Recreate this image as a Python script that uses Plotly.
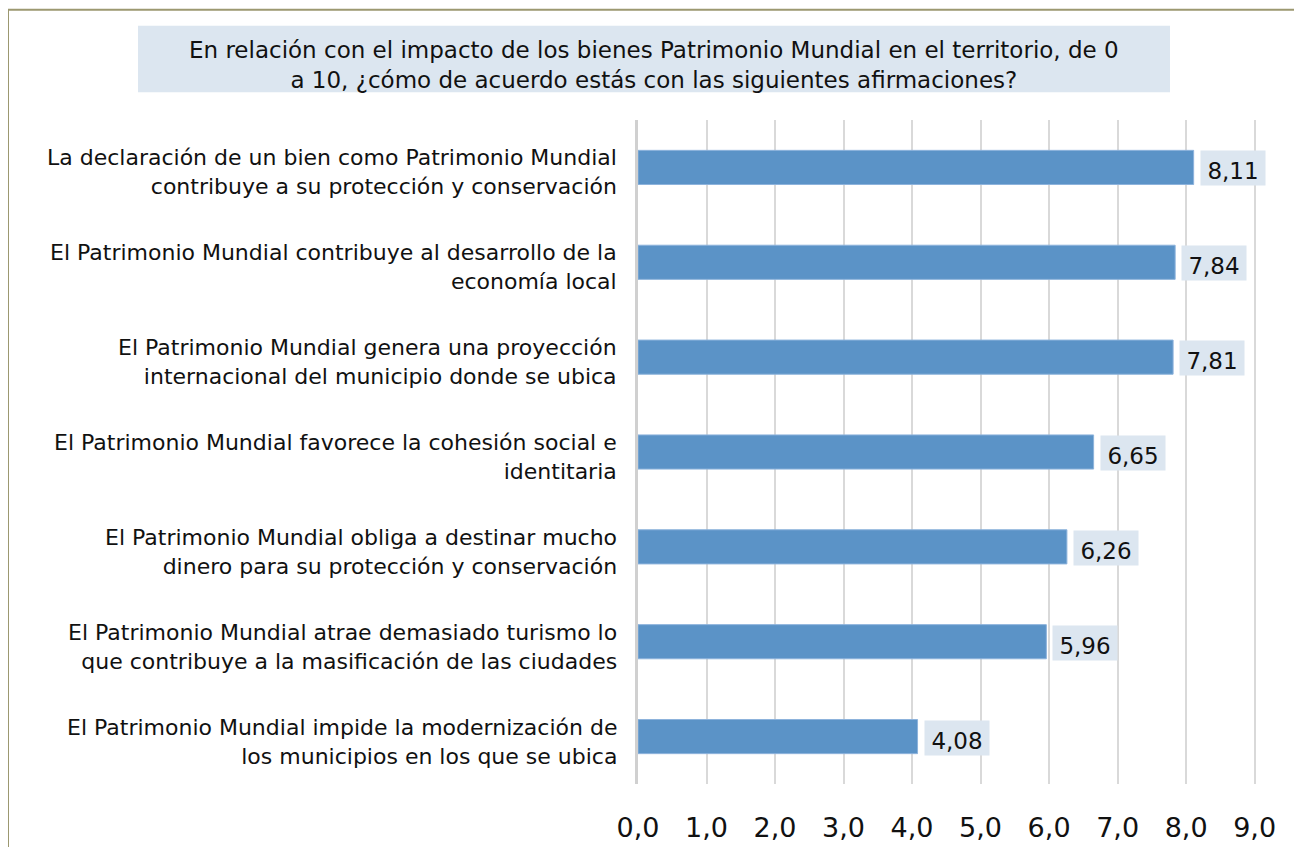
import plotly.graph_objects as go

labels = [
    "La declaración de un bien como Patrimonio Mundial<br>contribuye a su protección y conservación",
    "El Patrimonio Mundial contribuye al desarrollo de la<br>economía local",
    "El Patrimonio Mundial genera una proyección<br>internacional del municipio donde se ubica",
    "El Patrimonio Mundial favorece la cohesión social e<br>identitaria",
    "El Patrimonio Mundial obliga a destinar mucho<br>dinero para su protección y conservación",
    "El Patrimonio Mundial atrae demasiado turismo lo<br>que contribuye a la masificación de las ciudades",
    "El Patrimonio Mundial impide la modernización de<br>los municipios en los que se ubica",
]
values = [8.11, 7.84, 7.81, 6.65, 6.26, 5.96, 4.08]
tick_vals = [0, 1, 2, 3, 4, 5, 6, 7, 8, 9]
tick_text = ["0,0", "1,0", "2,0", "3,0", "4,0", "5,0", "6,0", "7,0", "8,0", "9,0"]
title_text = ("En relación con el impacto de los bienes Patrimonio Mundial en el territorio, de 0<br>"
              "a 10, ¿cómo de acuerdo estás con las siguientes afirmaciones?")

FONT = "Verdana, DejaVu Sans, sans-serif"

# page is offset by the body margin (8px), so plot area coordinates are shifted
L, T, W, H = 630, 112, 618, 669


def px(x):
    return (x - L) / W


def py(y):
    return (T + H - y) / H


fig = go.Figure()

fig.add_trace(go.Bar(
    x=values,
    y=labels,
    orientation='h',
    width=0.36,
    marker=dict(color='#5B93C7', line=dict(color='#8DB3DC', width=1)),
    hoverinfo='x+y',
))

# category labels (drawn as annotations so they sit a little low, as in the original)
for lab in labels:
    fig.add_annotation(
        x=0, y=lab, xref='paper', yref='y',
        text=lab, showarrow=False,
        xanchor='right', yanchor='middle', align='right',
        xshift=-19, yshift=-5,
        font=dict(family=FONT, size=22, color='#111111'),
    )

# value labels with light box
for lab, v in zip(labels, values):
    fig.add_annotation(
        x=v, y=lab, xref='x', yref='y',
        text=f"{v:.2f}".replace('.', ','),
        showarrow=False, xanchor='left', xshift=6,
        yshift=-1,
        width=62, height=32, valign='bottom', align='center',
        bgcolor='#DCE6F0',
        font=dict(family=FONT, size=23, color='#111111'),
    )

# title box
fig.add_shape(
    type='rect', xref='paper', yref='paper',
    x0=px(130), x1=px(1162), y0=py(84), y1=py(17),
    line=dict(width=0), fillcolor='#DCE6F0', layer='below',
)
fig.add_annotation(
    x=px(646), y=py(57), xref='paper', yref='paper',
    text=title_text, showarrow=False,
    xanchor='center', yanchor='middle',
    font=dict(family=FONT, size=23, color='#111111'),
)

# outer border
fig.add_shape(
    type='rect', xref='paper', yref='paper',
    x0=px(0), x1=px(1291),
    y0=py(860), y1=py(1),
    line=dict(color='#9C9870', width=2),
    fillcolor='rgba(0,0,0,0)', layer='below',
)

fig.update_layout(
    width=1302, height=847,
    margin=dict(l=L, r=1302 - L - W, t=T, b=847 - T - H),
    paper_bgcolor='white', plot_bgcolor='white',
    showlegend=False,
    font=dict(family=FONT, size=22, color='#111111'),
    xaxis=dict(
        range=[0, 9.02], tickvals=tick_vals, ticktext=tick_text,
        showgrid=True, gridcolor='#D9D9D9', gridwidth=2,
        zeroline=False, showline=False,
        tickfont=dict(size=27), ticklabelstandoff=25,
        fixedrange=True,
    ),
    yaxis=dict(
        autorange='reversed', automargin=False,
        showline=True, linecolor='#D0D0D0', linewidth=3,
        ticks='', showticklabels=False,
    ),
)

fig.write_html("out.html")
